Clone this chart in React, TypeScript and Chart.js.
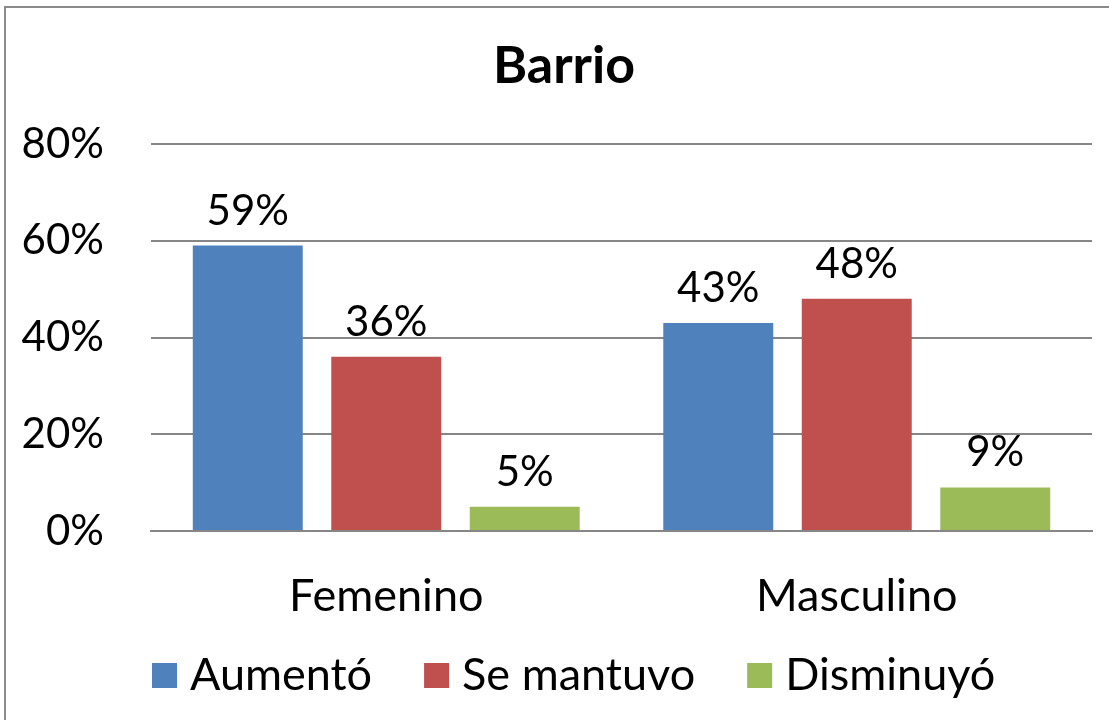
import React, { useEffect, useRef } from "react";
import { Chart, registerables } from "chart.js";

Chart.register(...registerables);

// Chart content
const chartTitle = "Barrio";
const categories = ["Femenino", "Masculino"];
const seriesNames = ["Aumentó", "Se mantuvo", "Disminuyó"];
const aumento = [59, 43];
const seMantuvo = [36, 48];
const disminuyo = [5, 9];
const yTicks = [0, 20, 40, 60, 80];

const colors = ["#4F81BD", "#C0504D", "#9BBB59"];
const FONT = "Lato, 'Open Sans', sans-serif";

const App: React.FC = () => {
  const canvasRef = useRef<HTMLCanvasElement | null>(null);

  useEffect(() => {
    if (!canvasRef.current) return;

    // Outer frame around the whole chart
    const framePlugin = {
      id: "frame",
      beforeDraw(chart: any) {
        const ctx = chart.ctx;
        ctx.save();
        ctx.fillStyle = "#ffffff";
        ctx.fillRect(0, 0, chart.width, chart.height);
        ctx.strokeStyle = "#8a8a8a";
        ctx.lineWidth = 2;
        ctx.strokeRect(5, 7, chart.width + 20, chart.height + 20);
        ctx.restore();
      },
    };

    // Title drawn centered over the frame
    const titlePlugin = {
      id: "frameTitle",
      afterDraw(chart: any) {
        const ctx = chart.ctx;
        ctx.save();
        ctx.font = `bold 52px ${FONT}`;
        ctx.fillStyle = "#000";
        ctx.textAlign = "center";
        ctx.textBaseline = "alphabetic";
        ctx.fillText(chartTitle, 564, 83);
        ctx.restore();
      },
    };

    // Value labels above each bar
    const valueLabels = {
      id: "valueLabels",
      afterDatasetsDraw(chart: any) {
        const ctx = chart.ctx;
        ctx.save();
        ctx.font = `42px ${FONT}`;
        ctx.fillStyle = "#000";
        ctx.textAlign = "center";
        ctx.textBaseline = "alphabetic";
        chart.data.datasets.forEach((ds: any, i: number) => {
          const meta = chart.getDatasetMeta(i);
          meta.data.forEach((el: any, j: number) => {
            ctx.fillText(`${ds.data[j]}%`, el.x, el.y - 21);
          });
        });
        ctx.restore();
      },
    };

    // Legend row under the category labels
    const legendRow = {
      id: "legendRow",
      afterDraw(chart: any) {
        const ctx = chart.ctx;
        ctx.save();
        ctx.font = `45px ${FONT}`;
        ctx.textBaseline = "alphabetic";
        ctx.textAlign = "left";
        let x = 152;
        const box = 25;
        const boxTop = 663;
        const baseline = 690;
        chart.data.datasets.forEach((ds: any) => {
          ctx.fillStyle = ds.backgroundColor;
          ctx.fillRect(x, boxTop, box, box);
          ctx.fillStyle = "#000";
          const tx = x + box + 13;
          ctx.fillText(ds.label, tx, baseline);
          x = tx + ctx.measureText(ds.label).width + 52;
        });
        ctx.restore();
      },
    };

    const chart = new Chart(canvasRef.current, {
      type: "bar",
      data: {
        labels: categories,
        datasets: [aumento, seMantuvo, disminuyo].map((d, i) => ({
          label: seriesNames[i],
          data: d,
          backgroundColor: colors[i],
          borderWidth: 0,
          categoryPercentage: 0.883,
          barPercentage: 0.794,
        })),
      },
      options: {
        animation: false,
        responsive: true,
        maintainAspectRatio: false,
        layout: { padding: { top: 144, left: 0, right: 17, bottom: 0 } },
        plugins: {
          legend: { display: false },
          title: { display: false },
          tooltip: { enabled: false },
        },
        scales: {
          x: {
            grid: { display: false, drawTicks: false },
            border: { display: true, color: "#868686", width: 2 },
            ticks: {
              color: "#000",
              font: { family: FONT, size: 45 },
              padding: 38,
            },
            afterFit(scale: any) {
              scale.height = 189;
            },
          },
          y: {
            min: 0,
            max: 80,
            afterBuildTicks(scale: any) {
              scale.ticks = yTicks.map((v) => ({ value: v }));
            },
            grid: { color: "#868686", lineWidth: 2, drawTicks: false },
            border: { display: false },
            ticks: {
              color: "#000",
              font: { family: FONT, size: 42 },
              padding: 47,
              callback: (v: any) => `${v}%`,
            },
            afterFit(scale: any) {
              scale.width = 151;
            },
          },
        },
      },
      plugins: [framePlugin, valueLabels, titlePlugin, legendRow],
    });

    return () => chart.destroy();
  }, []);

  return (
    <div
      style={{
        position: "fixed",
        left: 0,
        top: 0,
        width: 1109,
        height: 720,
        background: "#fff",
      }}
    >
      <canvas ref={canvasRef} />
    </div>
  );
};

export default App;
